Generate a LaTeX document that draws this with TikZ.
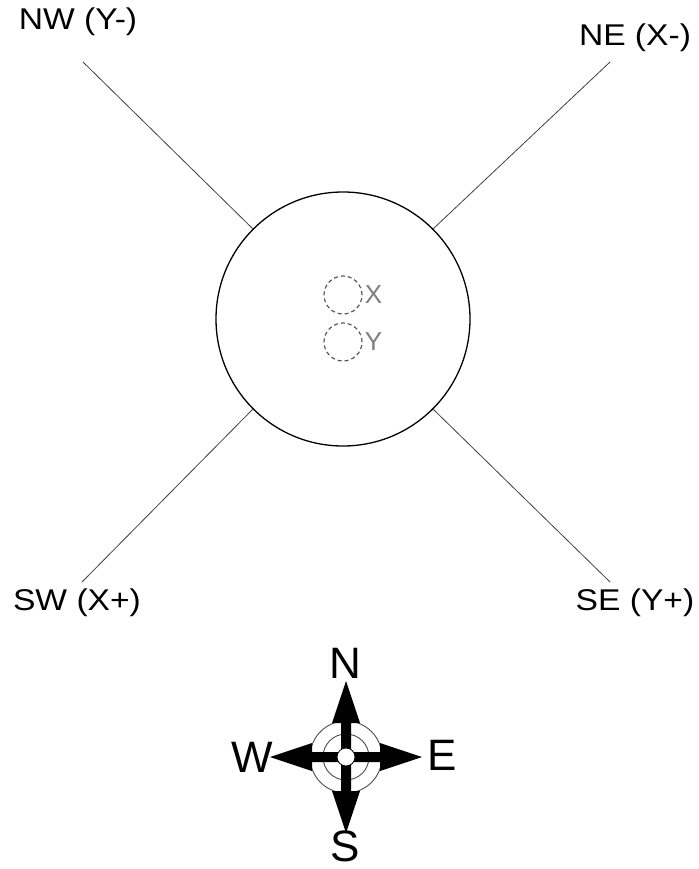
\documentclass[tikz,border=0pt]{standalone}
\usepackage{fontspec}
\setmainfont{Liberation Sans}
\usetikzlibrary{positioning,calc}

\tikzset{
  dirlabel/.style={font=\fontsize{30}{30}\selectfont,inner sep=0pt,xscale=1.12},
  holelabel/.style={font=\fontsize{26}{26}\selectfont,text=black!50,inner sep=0pt},
  hole/.style={circle,draw=black!65,dash pattern=on 4pt off 3pt,line width=1.2pt,minimum size=38pt,inner sep=0pt},
  arm/.style={draw=black!75,line width=0.8pt},
  compasslabel/.style={font=\fontsize{44}{44}\selectfont,inner sep=0pt}
}

\begin{document}
\begin{tikzpicture}[x=1pt,y=-1pt]
\useasboundingbox (0,0) rectangle (698,869);
% plate with its two holes
\node[circle,draw,line width=1.3pt,minimum size=254pt,inner sep=0pt] (plate) at (343,319) {};
\node[hole] (holeX) at (343,295) {};
\node[hole] (holeY) at (343,342) {};
\node[holelabel,right=2pt of holeX] (labX) {X};
\node[holelabel,right=2pt of holeY] (labY) {Y};
% corner labels and arms
\node[dirlabel] (nw) at (78,22) {NW (Y-)};
\node[dirlabel] (ne) at (635,38) {NE (X-)};
\node[dirlabel] (sw) at (77,603) {SW (X+)};
\node[dirlabel] (se) at (635,603) {SE (Y+)};
\coordinate (nwEnd) at (83,62);
\coordinate (neEnd) at (610,62);
\coordinate (swEnd) at (82,582);
\coordinate (seEnd) at (610,582);
\draw[arm] (nwEnd) -- (plate.north west);
\draw[arm] (neEnd) -- (plate.north east);
\draw[arm] (swEnd) -- (plate.south west);
\draw[arm] (seEnd) -- (plate.south east);
% compass rose
\coordinate (rose) at (346,757);
\draw[black!70,line width=0.9pt] (rose) circle (36);
\draw[black!70,line width=0.9pt] (rose) circle (23);
\foreach \ang in {0,90,180,270} {
  \fill[rotate around={\ang:(rose)}] ($(rose)+(-5,0)$) -- ++(0,-34) -- ++(-9,0) -- ($(rose)+(0,-76)$) -- ($(rose)+(14,-34)$) -- ++(-9,0) -- ($(rose)+(5,0)$) -- cycle;
}
\draw[fill=white,line width=0.8pt] (rose) circle (9);
\node[compasslabel] (north) at (345,663) {N};
\node[compasslabel] (east) at (442,755) {E};
\node[compasslabel] (west) at (252,757) {W};
\node[compasslabel] (south) at (345,846) {S};
\end{tikzpicture}
\end{document}
